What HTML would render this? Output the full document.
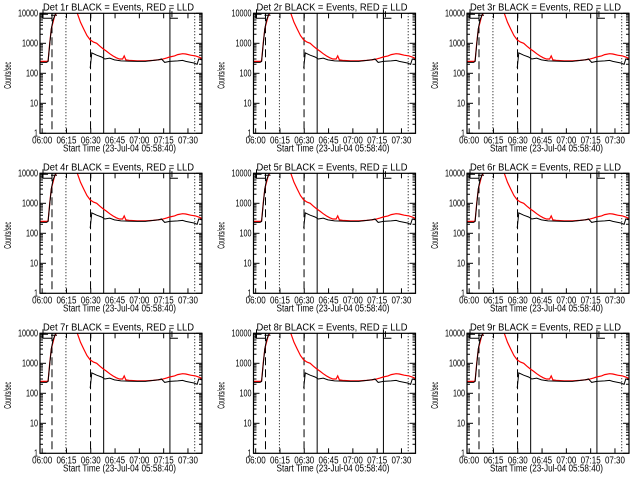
<!DOCTYPE html>
<html><head><meta charset="utf-8">
<style>
html,body{margin:0;padding:0;background:#fff;}
svg{display:block;}
text{font-family:"Liberation Sans",sans-serif;font-size:10px;fill:#000;}
</style></head>
<body>
<svg id="chart" width="640" height="480" viewBox="0 0 640 480" xmlns="http://www.w3.org/2000/svg"></svg>
<script>
// minutes since 05:58:40
const redTimes = [0,4,5,6,7,8,9,10,12,22,23,25,27,29,31,33,35,37,39,41,43,45,47,49,51,52,53,55,60,65,70,75,78,80,83,85,88,90,93,96,98,100];
const redValues = [250,250,260,1000,3000,5000,8000,10000,15000,15000,10000,5000,3000,1800,1300,1100,1000,800,650,550,450,380,330,300,300,380,280,270,260,260,270,290,320,350,380,420,450,440,400,380,350,310];
const blackTimes = [0,4,5,6,7,8,10,31,32,35,38,40,43,46,50,60,65,70,73,75,77,80,85,88,90,95,97,98,100];
const blackValues = [230,230,250,900,3000,6000,11000,150,480,400,350,300,320,280,260,250,250,270,280,300,230,250,260,270,250,220,200,300,280];
const blackBreakAfter = 10; // data gap after this time
const yTickValues = [1,10,100,1000,10000];
const yTickLabels = ["1","10","100","1000","10000"];
const xTickMinutes = [1.333,16.333,31.333,46.333,61.333,76.333,91.333];
const xTickLabels = ["06:00","06:15","06:30","06:45","07:00","07:15","07:30"];
const dashedMarks = [7.4,31.2];
const dottedMarks = [16,95.5];
const solidMarks = [39.3,80.2];
const detectors = ["1","2","3","4","5","6","7","8","9"];

const NS="http://www.w3.org/2000/svg";
const svg=document.getElementById('chart');
function mk(tag,attrs,parent){const e=document.createElementNS(NS,tag);for(const k in attrs)e.setAttribute(k,attrs[k]);parent.appendChild(e);return e;}

const W=162,H=120,TMAX=100;
detectors.forEach((d,i)=>{
  const col=i%3,row=Math.floor(i/3);
  const L=40+col*213.5, T=13.3+row*160;
  const xs=t=>L+t*W/TMAX;
  const ys=v=>T+H-(Math.log10(v))*H/4;
  const g=mk('g',{},svg);
  
  
  const cp=mk('clipPath',{id:'cp'+i},g);
  mk('rect',{x:L,y:T,width:W,height:H},cp);
  const tt=mk('text',{x:L+3,y:T-3,textLength:151,lengthAdjust:'spacingAndGlyphs','font-size':'10'},g);
  tt.textContent='Det '+d+'r BLACK = Events, RED = LLD';
  
  
  const yl=mk('text',{x:0,y:0,'text-anchor':'middle',textLength:27,lengthAdjust:'spacingAndGlyphs',transform:`translate(${L-29},${T+H/2+2}) rotate(-90)`,'font-size':'7'},g);
  yl.textContent='Counts/sec';
  
  
  const xl=mk('text',{x:L+23,y:T+H+18,textLength:113,lengthAdjust:'spacingAndGlyphs','font-size':'9'},g);
  xl.textContent='Start Time (23-Jul-04 05:58:40)';
  
  
  yTickValues.forEach((v,k)=>{
    const y=ys(v);
    const n=yTickLabels[k].length;
    const lb=mk('text',{x:L-2-n*4,y:y+3,textLength:n*4,lengthAdjust:'spacingAndGlyphs','font-size':'8'},g);
    lb.textContent=yTickLabels[k];
    
    
    mk('line',{x1:L,x2:L+6,y1:y,y2:y,stroke:'#000'},g);
    mk('line',{x1:L+W-6,x2:L+W,y1:y,y2:y,stroke:'#000'},g);
    if(k<yTickValues.length-1){for(let m=2;m<10;m++){const yy=ys(v*m);
      mk('line',{x1:L,x2:L+3,y1:yy,y2:yy,stroke:'#000'},g);
      mk('line',{x1:L+W-3,x2:L+W,y1:yy,y2:yy,stroke:'#000'},g);}}
  });
  xTickMinutes.forEach((t,k)=>{
    const x=xs(t);
    const lb=mk('text',{x:x-10,y:T+H+10,textLength:20,lengthAdjust:'spacingAndGlyphs','font-size':'8'},g);
    lb.textContent=xTickLabels[k];
    
    
    mk('line',{x1:x,x2:x,y1:T+H,y2:T+H-5,stroke:'#000'},g);
    mk('line',{x1:x,x2:x,y1:T,y2:T+5,stroke:'#000'},g);
  });
  dashedMarks.forEach(t=>mk('line',{x1:xs(t),x2:xs(t),y1:T,y2:T+H,stroke:'#000','stroke-dasharray':'8,4'},g));
  dottedMarks.forEach(t=>mk('line',{x1:xs(t),x2:xs(t),y1:T,y2:T+H,stroke:'#000','stroke-dasharray':'1,2'},g));
  solidMarks.forEach(t=>mk('line',{x1:xs(t),x2:xs(t),y1:T,y2:T+H,stroke:'#000'},g));
  mk('path',{d:`M${L+3},${T-4}V${T+5}H${L+12}M${L+11},${T+2}H${L+17}M${L+3},${T+1}H${L+8}`,stroke:'#000',fill:'none'},g);
  mk('path',{d:`M${xs(80.2)},${T-4}V${T+5}H${xs(80.2)+8}M${xs(80.2)+2},${T-2}V${T+4}`,stroke:'#000',fill:'none'},g);
  const cg=mk('g',{'clip-path':`url(#cp${i})`},g);
  let dr='';redTimes.forEach((t,k)=>{dr+=(k?'L':'M')+xs(t).toFixed(1)+','+ys(redValues[k]).toFixed(1);});
  const pr=mk('path',{d:dr,stroke:'#f00',fill:'none','stroke-width':'1.2'},cg);
  
  
  let db='',start=true;
  blackTimes.forEach((t,k)=>{db+=(start?'M':'L')+xs(t).toFixed(1)+','+ys(blackValues[k]).toFixed(1);start=false;if(t===blackBreakAfter)start=true;});
  const pb=mk('path',{d:db,stroke:'#000',fill:'none','stroke-width':'1'},cg);
  
  
  const fr=mk('rect',{x:L,y:T,width:W,height:H,fill:'none',stroke:'#000','stroke-width':'1.2'},g);
  
  
});
</script>
</body></html>
